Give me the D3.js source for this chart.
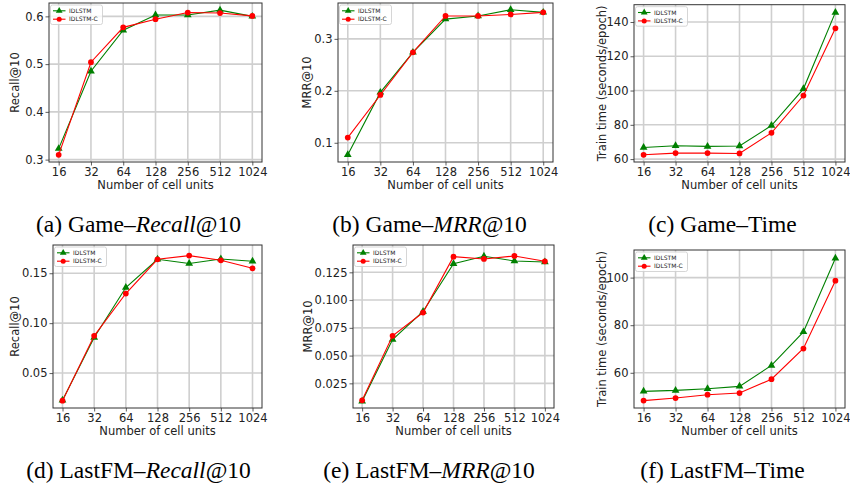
<!DOCTYPE html>
<html>
<head>
<meta charset="utf-8">
<script src="https://cdn.jsdelivr.net/npm/d3@7"></script>
<style>
	body { margin: 0; background: #fff; }
	svg { display: block; }
</style>
</head>
<body>
<svg id="chart" width="850" height="489"></svg>
<script>
// categories
const units = ['16', '32', '64', '128', '256', '512', '1024'];
const seriesNames = ['IDLSTM', 'IDLSTM-C'];

// Game
const gameRecallIdlstm = [0.323, 0.485, 0.571, 0.603, 0.603, 0.613, 0.600];
const gameRecallIdlstmC = [0.310, 0.504, 0.577, 0.594, 0.608, 0.607, 0.601];
const gameMrrIdlstm = [0.077, 0.197, 0.274, 0.338, 0.344, 0.356, 0.351];
const gameMrrIdlstmC = [0.110, 0.192, 0.274, 0.344, 0.344, 0.347, 0.351];
const gameTimeIdlstm = [66.8, 67.8, 67.4, 67.6, 79.6, 101.0, 145.6];
const gameTimeIdlstmC = [62.5, 63.5, 63.5, 63.3, 75.3, 97.1, 136.3];

// LastFM
const lastfmRecallIdlstm = [0.0227, 0.0857, 0.1357, 0.164, 0.1597, 0.1643, 0.162];
const lastfmRecallIdlstmC = [0.0223, 0.0873, 0.1297, 0.164, 0.1677, 0.163, 0.155];
const lastfmMrrIdlstm = [0.0088, 0.0645, 0.0897, 0.1328, 0.1394, 0.1352, 0.1343];
const lastfmMrrIdlstmC = [0.0097, 0.0678, 0.0888, 0.1391, 0.137, 0.1397, 0.1349];
const lastfmTimeIdlstm = [52.2, 52.6, 53.3, 54.3, 63.1, 77.2, 108.1];
const lastfmTimeIdlstmC = [48.3, 49.4, 50.8, 51.5, 57.3, 70.2, 98.7];

// tick labels
const ticksGameRecall = [0.3, 0.4, 0.5, 0.6];
const ticksGameMrr = [0.1, 0.2, 0.3];
const ticksGameTime = [60, 80, 100, 120, 140];
const ticksLastfmRecall = [0.05, 0.10, 0.15];
const ticksLastfmMrr = [0.025, 0.050, 0.075, 0.100, 0.125];
const ticksLastfmTime = [60, 80, 100];

const colors = ['#008000', '#ff0000'];
const tickFont = 'DejaVu Sans, sans-serif';

const panels = [
	{
		box: [49, 3, 262, 162], domain: [0.295, 0.628], ticks: ticksGameRecall, fmt: d3.format('.1f'),
		ylabel: 'Recall@10', ylabelX: 15, series: [gameRecallIdlstm, gameRecallIdlstmC],
		caption: ['(a) Game–', 'Recall', '@10'], capX: 138.5, capY: 231.5
	},
	{
		box: [338, 3, 553, 162], domain: [0.063, 0.369], ticks: ticksGameMrr, fmt: d3.format('.1f'),
		ylabel: 'MRR@10', ylabelX: 307, series: [gameMrrIdlstm, gameMrrIdlstmC],
		caption: ['(b) Game–', 'MRR', '@10'], capX: 429.5, capY: 231.5
	},
	{
		box: [634, 4.7, 845, 162], domain: [58.3, 150.1], ticks: ticksGameTime, fmt: d3.format('d'),
		ylabel: 'Train time (seconds/epoch)', ylabelX: 602, series: [gameTimeIdlstm, gameTimeIdlstmC],
		caption: ['(c) Game–Time', '', ''], capX: 722.5, capY: 231.5
	},
	{
		box: [53, 245, 262, 408], domain: [0.015, 0.1783], ticks: ticksLastfmRecall, fmt: d3.format('.2f'),
		ylabel: 'Recall@10', ylabelX: 15, series: [lastfmRecallIdlstm, lastfmRecallIdlstmC],
		caption: ['(d) LastFM–', 'Recall', '@10'], capX: 138.5, capY: 477.5
	},
	{
		box: [353, 245, 554, 408], domain: [0.0028, 0.1496], ticks: ticksLastfmMrr, fmt: d3.format('.3f'),
		ylabel: 'MRR@10', ylabelX: 308, series: [lastfmMrrIdlstm, lastfmMrrIdlstmC],
		caption: ['(e) LastFM–', 'MRR', '@10'], capX: 429, capY: 477.5
	},
	{
		box: [634, 250, 845, 408], domain: [45.2, 111.6], ticks: ticksLastfmTime, fmt: d3.format('d'),
		ylabel: 'Train time (seconds/epoch)', ylabelX: 602, series: [lastfmTimeIdlstm, lastfmTimeIdlstmC],
		caption: ['(f) LastFM–Time', '', ''], capX: 722.5, capY: 477.5
	}
];

const svg = d3.select('#chart');

panels.forEach(p => {
	const [x0, y0, x1, y1] = p.box;
	const x = d3.scalePoint().domain(units).range([x0, x1]).padding(0.3);
	const y = d3.scaleLinear().domain(p.domain).range([y1, y0]);

	const g = svg.append('g');

	// grid
	g.append('g').selectAll('line').data(units).join('line')
		.attr('x1', d => x(d)).attr('x2', d => x(d))
		.attr('y1', y0).attr('y2', y1)
		.attr('stroke', '#cfcfcf').attr('stroke-width', 1.6);
	g.append('g').selectAll('line').data(p.ticks).join('line')
		.attr('x1', x0).attr('x2', x1)
		.attr('y1', d => y(d)).attr('y2', d => y(d))
		.attr('stroke', '#cfcfcf').attr('stroke-width', 1.6);

	// axes
	const xAxis = g.append('g').attr('transform', `translate(0,${y1})`)
		.call(d3.axisBottom(x).tickSizeInner(3.5).tickSizeOuter(0).tickPadding(2));
	const yAxis = g.append('g').attr('transform', `translate(${x0},0)`)
		.call(d3.axisLeft(y).tickValues(p.ticks).tickFormat(p.fmt).tickSizeInner(3.5).tickSizeOuter(0).tickPadding(2));
	[xAxis, yAxis].forEach(a => {
		a.select('.domain').remove();
		a.selectAll('text').attr('font-family', tickFont).attr('font-size', 11.5).attr('fill', '#222');
		a.selectAll('line').attr('stroke', '#333').attr('stroke-width', 0.8);
	});

	// series
	const line = d3.line().x((d, i) => x(units[i])).y(d => y(d));
	p.series.forEach((vals, si) => {
		const s = g.append('g');
		s.append('path').datum(vals).attr('d', line)
			.attr('fill', 'none').attr('stroke', colors[si]).attr('stroke-width', 1.1);
		const sym = d3.symbol().type(si === 0 ? d3.symbolTriangle : d3.symbolCircle).size(26);
		s.selectAll('path.m').data(vals).join('path').attr('class', 'm')
			.attr('d', sym)
			.attr('transform', (d, i) => `translate(${x(units[i])},${y(d)})`)
			.attr('fill', colors[si]);
	});

	// frame
	g.append('rect').attr('x', x0).attr('y', y0).attr('width', x1 - x0).attr('height', y1 - y0)
		.attr('fill', 'none').attr('stroke', '#333').attr('stroke-width', 1);

	// legend
	const lg = g.append('g').attr('transform', `translate(${x0 + 1.5},${y0 + 2})`);
	lg.append('rect').attr('width', 52).attr('height', 19.5).attr('rx', 2)
		.attr('fill', '#fff').attr('fill-opacity', 0.8).attr('stroke', '#ccc').attr('stroke-width', 0.8);
	seriesNames.forEach((n, si) => {
		const ly = 5.8 + si * 8.4;
		lg.append('line').attr('x1', 2.5).attr('x2', 15).attr('y1', ly).attr('y2', ly)
			.attr('stroke', colors[si]).attr('stroke-width', 1.1);
		lg.append('path').attr('d', d3.symbol().type(si === 0 ? d3.symbolTriangle : d3.symbolCircle).size(20))
			.attr('transform', `translate(8.7,${ly})`).attr('fill', colors[si]);
		lg.append('text').attr('x', 18.5).attr('y', ly).attr('dy', '0.35em')
			.attr('font-family', tickFont).attr('font-size', 6).attr('fill', '#222').text(n);
	});

	// labels
	g.append('text').attr('x', (x0 + x1) / 2).attr('y', y1 + 27)
		.attr('text-anchor', 'middle').attr('font-family', tickFont).attr('font-size', 11.5).attr('fill', '#222')
		.text('Number of cell units');
	g.append('text').attr('transform', `translate(${p.ylabelX},${(y0 + y1) / 2}) rotate(-90)`)
		.attr('text-anchor', 'middle').attr('dy', '0.35em')
		.attr('font-family', tickFont).attr('font-size', 11.5).attr('fill', '#222')
		.text(p.ylabel);

	// caption
	const cap = svg.append('text').attr('x', p.capX).attr('y', p.capY).attr('text-anchor', 'middle')
		.attr('font-family', 'Liberation Serif, serif').attr('font-size', 23.5).attr('fill', '#000');
	cap.append('tspan').text(p.caption[0]);
	if (p.caption[1]) {
		cap.append('tspan').attr('font-style', 'italic').text(p.caption[1]);
		cap.append('tspan').text(p.caption[2]);
	}
});
</script>
</body>
</html>
